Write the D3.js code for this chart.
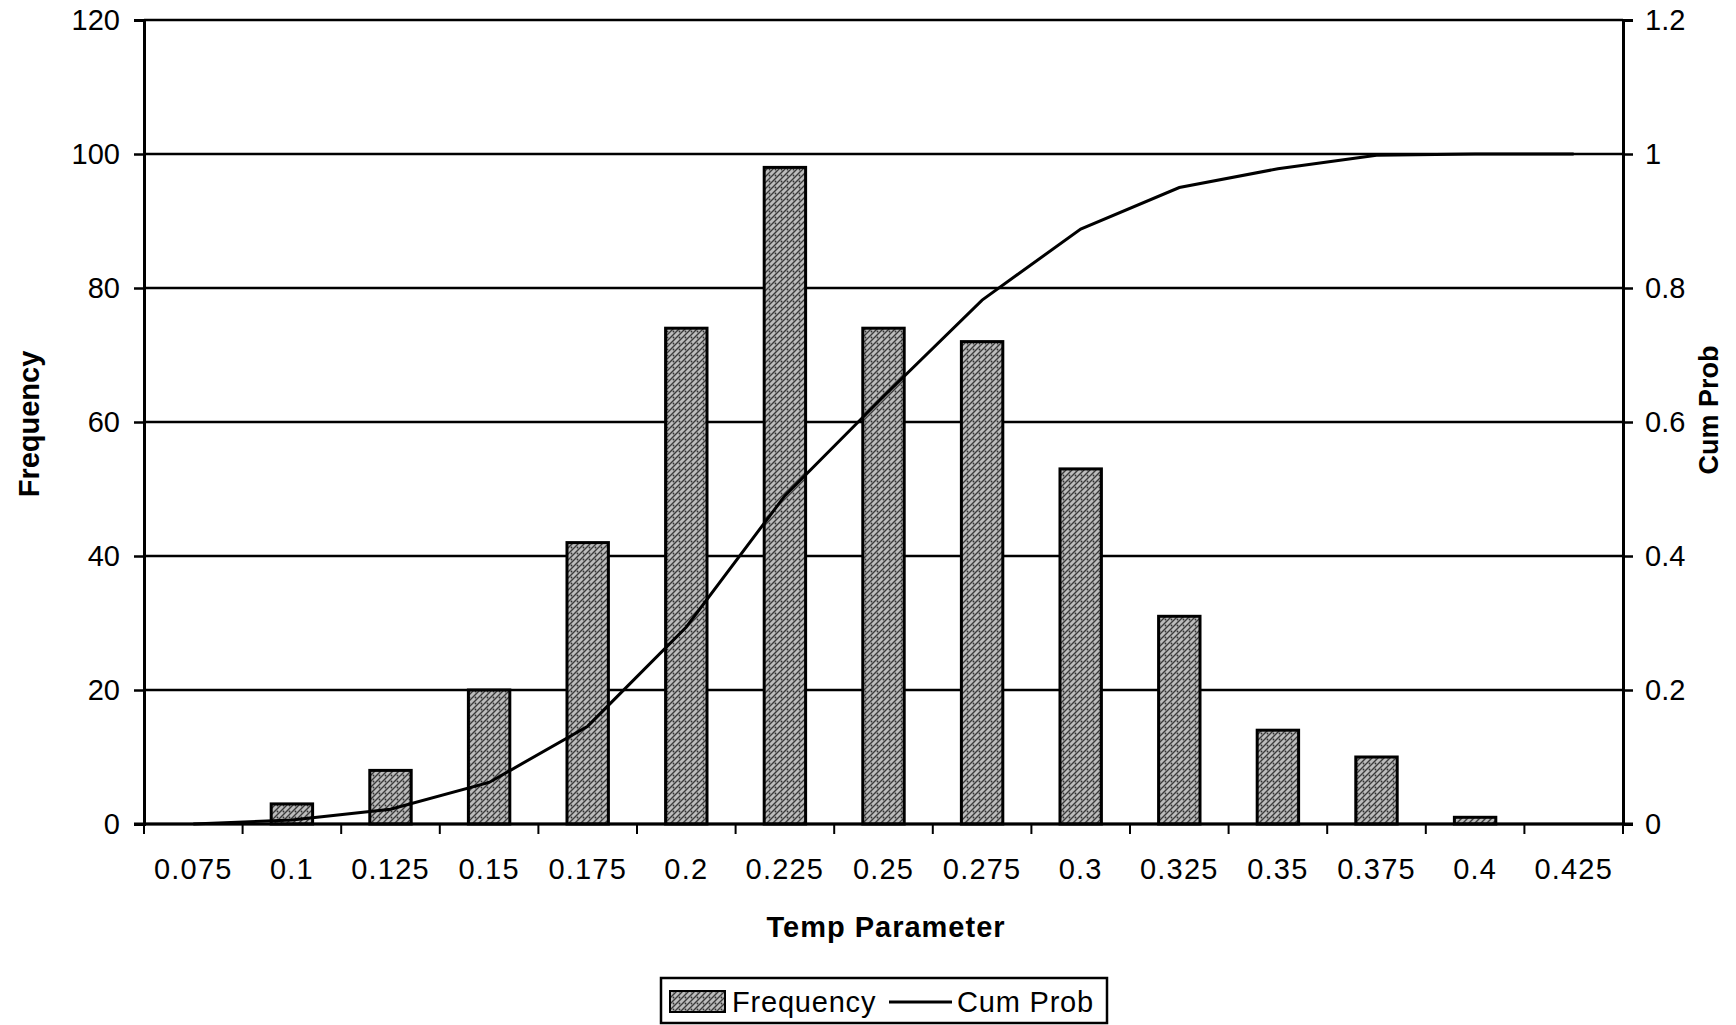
<!DOCTYPE html>
<html>
<head>
<meta charset="utf-8">
<script src="https://cdn.jsdelivr.net/npm/d3@7"></script>
<style>
  html, body { margin: 0; padding: 0; background: #fff; }
  svg { display: block; font-family: "Liberation Sans", Arial, sans-serif; }
</style>
</head>
<body>
<svg id="chart" width="1736" height="1025"></svg>
<script>
// Histogram of the temperature parameter with its cumulative probability
const categories = ["0.075", "0.1", "0.125", "0.15", "0.175", "0.2", "0.225", "0.25",
                    "0.275", "0.3", "0.325", "0.35", "0.375", "0.4", "0.425"];
const frequency = [0, 3, 8, 20, 42, 74, 98, 74, 72, 53, 31, 14, 10, 1, 0];
const cumProb = [0, 0.006, 0.022, 0.062, 0.146, 0.294, 0.49, 0.638, 0.782, 0.888,
                 0.95, 0.978, 0.998, 1.0, 1.0];
const leftTicks = [0, 20, 40, 60, 80, 100, 120];
const rightTicks = [0, 0.2, 0.4, 0.6, 0.8, 1, 1.2];
const rightTickLabels = ["0", "0.2", "0.4", "0.6", "0.8", "1", "1.2"];

const svg = d3.select("#chart");
const plot = { left: 144, right: 1623, top: 20, bottom: 824 };

const x = d3.scaleBand().domain(categories)
  .range([plot.left, plot.right]).paddingInner(0.58).paddingOuter(0.29);
const yL = d3.scaleLinear().domain([0, 120]).range([plot.bottom, plot.top]);
const yR = d3.scaleLinear().domain([0, 1.2]).range([plot.bottom, plot.top]);

// stippled fill for the bars
const defs = svg.append("defs");
const pat = defs.append("pattern").attr("id", "stipple")
  .attr("patternUnits", "userSpaceOnUse").attr("width", 6).attr("height", 6);
pat.append("rect").attr("width", 6).attr("height", 6).attr("fill", "#bcbcbc");
pat.append("path").attr("d", "M0,6 L6,0 M-1,1 L1,-1 M5,7 L7,5")
  .attr("stroke", "#3a3a3a").attr("stroke-width", 1.4);
pat.append("circle").attr("cx", 1.5).attr("cy", 1.5).attr("r", 0.9).attr("fill", "#333");

// horizontal gridlines
svg.append("g").selectAll("line").data(leftTicks).join("line")
  .attr("x1", plot.left).attr("x2", plot.right)
  .attr("y1", d => yL(d)).attr("y2", d => yL(d))
  .attr("stroke", "#000").attr("stroke-width", 2.5);

// bars
svg.append("g").selectAll("rect").data(frequency.map((v, i) => ({ c: categories[i], v })))
  .join("rect")
  .filter(d => d.v > 0)
  .attr("x", d => x(d.c)).attr("width", x.bandwidth())
  .attr("y", d => yL(d.v)).attr("height", d => yL(0) - yL(d.v))
  .attr("fill", "url(#stipple)").attr("stroke", "#000").attr("stroke-width", 3);

// cumulative probability line
const line = d3.line().x((d, i) => x(categories[i]) + x.bandwidth() / 2).y(d => yR(d));
svg.append("path").datum(cumProb).attr("d", line)
  .attr("fill", "none").attr("stroke", "#000").attr("stroke-width", 3);

// left axis
const axL = svg.append("g").attr("transform", `translate(${plot.left},0)`)
  .call(d3.axisLeft(yL).tickValues(leftTicks).tickSize(10).tickPadding(14));
// right axis
const axR = svg.append("g").attr("transform", `translate(${plot.right},0)`)
  .call(d3.axisRight(yR).tickValues(rightTicks).tickSize(10).tickPadding(12)
    .tickFormat((d, i) => rightTickLabels[i]));
// bottom axis (labels at band centres, tick marks between categories)
const axB = svg.append("g").attr("transform", `translate(0,${plot.bottom})`)
  .call(d3.axisBottom(x).tickSize(0).tickPadding(34));
const gap = (x.step() - x.bandwidth()) / 2;
const bounds = categories.map(c => x(c) - gap).concat([x(categories[categories.length - 1]) + x.bandwidth() + gap]);
axB.append("g").selectAll("line").data(bounds).join("line")
  .attr("x1", d => d).attr("x2", d => d).attr("y1", 0).attr("y2", 10)
  .attr("stroke", "#000").attr("stroke-width", 2);

[axL, axR, axB].forEach(g => {
  g.select(".domain").attr("stroke", "#000").attr("stroke-width", 3);
  g.selectAll(".tick line").attr("stroke", "#000").attr("stroke-width", 2.5);
  g.selectAll(".tick text").attr("fill", "#000").attr("font-size", 29)
    .attr("font-family", "'Liberation Sans', Arial, sans-serif");
});
axB.selectAll(".tick text").attr("letter-spacing", 1.2);
axB.select(".domain").attr("d", `M${plot.left - 10},0H${plot.right + 10}`);

// axis titles
svg.append("text").attr("x", 886).attr("y", 937)
  .attr("text-anchor", "middle").attr("font-size", 29).attr("font-weight", "bold")
  .attr("letter-spacing", 1).text("Temp Parameter");
svg.append("text").attr("transform", "translate(39,424) rotate(-90)")
  .attr("text-anchor", "middle").attr("font-size", 29).attr("font-weight", "bold")
  .text("Frequency");
svg.append("text").attr("transform", "translate(1718,410) rotate(-90)")
  .attr("text-anchor", "middle").attr("font-size", 27).attr("font-weight", "bold")
  .text("Cum Prob");

// legend
const lg = svg.append("g");
lg.append("rect").attr("x", 661).attr("y", 978).attr("width", 446).attr("height", 45)
  .attr("fill", "#fff").attr("stroke", "#000").attr("stroke-width", 2.5);
lg.append("rect").attr("x", 670).attr("y", 991).attr("width", 55).attr("height", 21)
  .attr("fill", "url(#stipple)").attr("stroke", "#000").attr("stroke-width", 2);
lg.append("text").attr("x", 732).attr("y", 1012).attr("font-size", 29)
  .attr("letter-spacing", 0.8).text("Frequency");
lg.append("line").attr("x1", 889).attr("x2", 952).attr("y1", 1002).attr("y2", 1002)
  .attr("stroke", "#000").attr("stroke-width", 3);
lg.append("text").attr("x", 957).attr("y", 1012).attr("font-size", 29)
  .attr("letter-spacing", 0.8).text("Cum Prob");
</script>
</body>
</html>
